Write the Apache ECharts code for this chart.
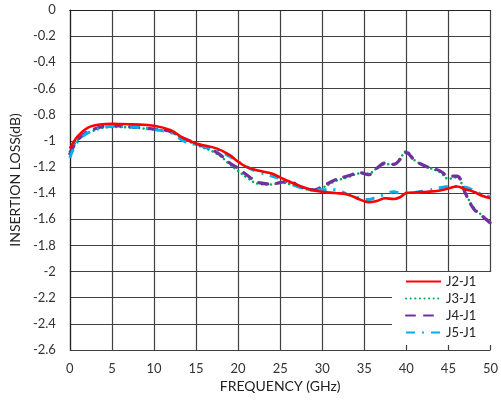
<!DOCTYPE html>
<html>
<head>
<meta charset="utf-8">
<script src="https://cdn.jsdelivr.net/npm/echarts@6/dist/echarts.min.js"></script>
<style>
  html, body { margin: 0; padding: 0; background: #fff; }
  #chart { width: 501px; height: 400px; }
</style>
</head>
<body>
<div id="chart"></div>
<script>
// frequency points (GHz)
const freq = [0, 1, 2.5, 5, 7.5, 10, 12, 13.5, 15, 17.5, 19, 20, 21, 22.5, 24, 25, 26, 27.5, 29, 30,
  31.5, 33, 34.5, 35.5, 36.5, 37.5, 38.5, 39.3, 40, 41, 42.5, 44, 45, 46, 47, 48, 49, 50]

const j2 = [-1.06, -0.96, -0.89, -0.87, -0.875, -0.885, -0.92, -0.98, -1.02, -1.06, -1.11, -1.16, -1.2, -1.23, -1.25, -1.28, -1.31, -1.35, -1.38, -1.39,
  -1.4, -1.41, -1.45, -1.47, -1.46, -1.44, -1.445, -1.43, -1.4, -1.395, -1.39, -1.38, -1.365, -1.35, -1.37, -1.39, -1.42, -1.44]
const j3 = [-1.08, -0.99, -0.93, -0.895, -0.9, -0.915, -0.935, -0.985, -1.03, -1.1, -1.18, -1.23, -1.28, -1.33, -1.335, -1.32, -1.33, -1.36, -1.38, -1.36,
  -1.31, -1.28, -1.25, -1.25, -1.21, -1.18, -1.18, -1.13, -1.08, -1.15, -1.2, -1.24, -1.29, -1.28, -1.4, -1.51, -1.57, -1.62]
const j4 = [-1.1, -0.99, -0.92, -0.885, -0.895, -0.91, -0.93, -0.98, -1.02, -1.09, -1.17, -1.21, -1.26, -1.32, -1.33, -1.32, -1.31, -1.355, -1.375, -1.35,
  -1.3, -1.27, -1.245, -1.26, -1.21, -1.17, -1.18, -1.14, -1.09, -1.15, -1.2, -1.23, -1.27, -1.27, -1.4, -1.52, -1.575, -1.63]
const j5 = [-1.13, -1.0, -0.93, -0.89, -0.895, -0.915, -0.94, -1.0, -1.03, -1.07, -1.12, -1.16, -1.2, -1.24, -1.27, -1.29, -1.32, -1.36, -1.375, -1.375,
  -1.375, -1.41, -1.44, -1.45, -1.43, -1.41, -1.39, -1.4, -1.4, -1.395, -1.38, -1.36, -1.35, -1.35, -1.355, -1.38, -1.41, -1.43]

const names = ['J2-J1', 'J3-J1', 'J4-J1', 'J5-J1']

function pairs(vals) {
  return freq.map((f, i) => [f, vals[i]])
}

const font = 'Lato, "Open Sans", sans-serif'
const gridColor = '#404040'

let myChart = echarts.init(document.getElementById('chart'))
let option = {
  animation: false,
  grid: { left: 68, right: 7, top: 10, bottom: 50 },
  xAxis: {
    type: 'value',
    min: 0,
    max: 50,
    interval: 5,
    name: 'FREQUENCY (GHz)',
    nameLocation: 'middle',
    nameGap: 27,
    nameTextStyle: { fontFamily: font, fontSize: 14, color: '#222' },
    axisLine: { lineStyle: { color: '#222', width: 1.2 } },
    axisTick: { show: false },
    axisLabel: { fontFamily: font, fontSize: 13, color: '#333', margin: 12 },
    splitLine: { lineStyle: { color: gridColor, width: 1.2 } }
  },
  yAxis: {
    type: 'value',
    min: -2.6,
    max: 0,
    interval: 0.2,
    name: 'INSERTION LOSS(dB)',
    nameLocation: 'middle',
    nameGap: 44,
    nameTextStyle: { fontFamily: font, fontSize: 14, color: '#222' },
    axisLine: { show: true, lineStyle: { color: '#222', width: 1.2 } },
    axisTick: { show: false },
    axisLabel: { fontFamily: font, fontSize: 13, color: '#333', margin: 14 },
    splitLine: { lineStyle: { color: gridColor, width: 1.2 } }
  },
  legend: {
    orient: 'vertical',
    left: 392,
    top: 272,
    data: names,
    itemWidth: 35,
    itemHeight: 14,
    itemGap: 4,
    padding: [3, 19, 6, 13],
    backgroundColor: '#fff',
    itemStyle: { opacity: 0 },
    textStyle: { fontFamily: font, fontSize: 13, color: '#222' }
  },
  series: [
    {
      name: names[0],
      type: 'line',
      smooth: 0.4,
      symbol: 'none',
      data: pairs(j2),
      z: 5,
      itemStyle: { color: '#ff0000' },
      lineStyle: { color: '#ff0000', width: 2.6 }
    },
    {
      name: names[1],
      type: 'line',
      smooth: 0.4,
      symbol: 'none',
      data: pairs(j3),
      itemStyle: { color: '#00b050' },
      lineStyle: { color: '#00b050', width: 2.5, type: [0.1, 4.5], cap: 'round' }
    },
    {
      name: names[2],
      type: 'line',
      smooth: 0.4,
      symbol: 'none',
      data: pairs(j4),
      itemStyle: { color: '#7030a0' },
      lineStyle: { color: '#7030a0', width: 3.2, type: [9, 9], cap: 'round' }
    },
    {
      name: names[3],
      type: 'line',
      smooth: 0.4,
      symbol: 'none',
      data: pairs(j5),
      itemStyle: { color: '#00b0f0' },
      lineStyle: { color: '#00b0f0', width: 3, type: [9, 7, 2, 7] }
    }
  ]
}
myChart.setOption(option)
</script>
</body>
</html>
